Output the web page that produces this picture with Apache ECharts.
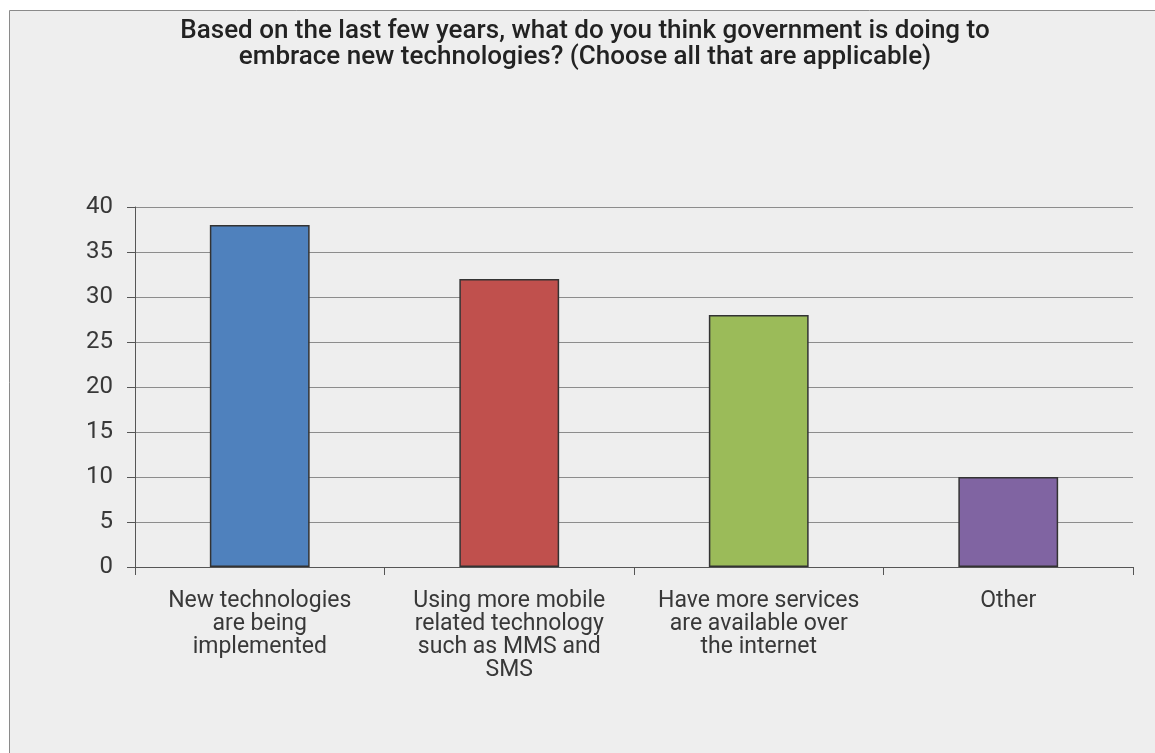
<!DOCTYPE html>
<html>
<head>
<meta charset="utf-8">
<style>
  html, body { margin: 0; padding: 0; background: #ffffff; }
  #chart { width: 1155px; height: 753px; }
</style>
<script src="https://cdn.jsdelivr.net/npm/echarts@6/dist/echarts.min.js"></script>
</head>
<body>
<div id="chart"></div>
<script>
// Survey responses: how government is embracing new technologies
const titleLines = [
  'Based on the last few years, what do you think government is doing to',
  'embrace new technologies? (Choose all that are applicable)'
];
const categories = [
  'New technologies\nare being\nimplemented',
  'Using more mobile\nrelated technology\nsuch as MMS and\nSMS',
  'Have more services\nare available over\nthe internet',
  'Other'
];
const responses = [38, 32, 28, 10];
const barColors = ['#4f81bd', '#c0504d', '#9bbb59', '#8064a2'];
const yTicks = { min: 0, max: 40, interval: 5 };

const chart = echarts.init(document.getElementById('chart'), null, { renderer: 'canvas' });

chart.setOption({
  backgroundColor: '#ffffff',
  animation: false,
  graphic: [{
    type: 'rect',
    z: -10,
    shape: { x: 9.5, y: 10.5, width: 1160, height: 760 },
    style: { fill: '#eeeeee', stroke: '#8a8a8a', lineWidth: 1 }
  }],
  title: {
    text: titleLines.join('\n'),
    left: 580,
    textAlign: 'center',
    top: 13,
    textStyle: {
      fontFamily: 'Roboto',
      fontWeight: 500,
      fontSize: 26,
      lineHeight: 26,
      color: '#222222'
    }
  },
  grid: { left: 135, right: 22, top: 207, bottom: 186 },
  xAxis: {
    type: 'category',
    data: categories,
    axisLine: { lineStyle: { color: '#555555', width: 1 } },
    axisTick: { show: true, length: 8, alignWithLabel: false, lineStyle: { color: '#555555' } },
    axisLabel: {
      interval: 0,
      margin: 23,
      fontFamily: 'Roboto',
      fontSize: 23,
      lineHeight: 23,
      color: '#383838'
    }
  },
  yAxis: {
    type: 'value',
    min: yTicks.min,
    max: yTicks.max,
    interval: yTicks.interval,
    axisLine: { show: true, lineStyle: { color: '#555555', width: 1 } },
    axisTick: { show: true, length: 8, lineStyle: { color: '#555555' } },
    splitLine: { lineStyle: { color: '#8c8c8c', width: 1 } },
    axisLabel: {
      margin: 22,
      fontFamily: 'Roboto',
      fontSize: 24,
      color: '#383838'
    }
  },
  series: [{
    type: 'bar',
    barWidth: '40%',
    data: responses.map((v, i) => ({
      value: v,
      itemStyle: { color: barColors[i] }
    })),
    itemStyle: { borderColor: '#333333', borderWidth: 1.5 }
  }]
});
</script>
</body>
</html>
